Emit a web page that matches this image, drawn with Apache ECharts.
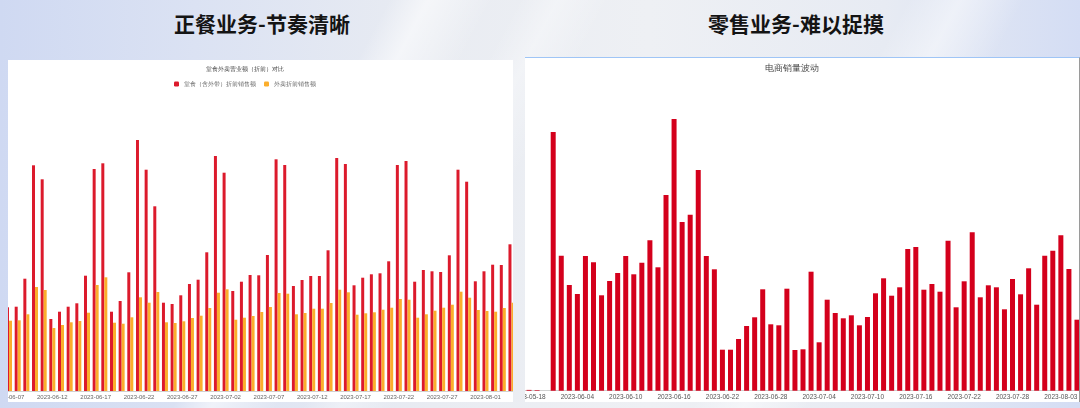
<!DOCTYPE html>
<html>
<head>
<meta charset="utf-8">
<script src="https://cdn.jsdelivr.net/npm/echarts@6/dist/echarts.min.js"></script>
<style>
html,body{margin:0;padding:0;}
body{width:1080px;height:408px;overflow:hidden;position:relative;font-family:"Noto Sans CJK SC",sans-serif;
  background:
    linear-gradient(118deg, rgba(255,255,255,0) 30%, rgba(255,255,255,0.55) 33%, rgba(255,255,255,0) 38%),
    linear-gradient(118deg, rgba(255,255,255,0) 40%, rgba(255,255,255,0.35) 43%, rgba(255,255,255,0) 47%),
    linear-gradient(118deg, rgba(255,255,255,0) 70%, rgba(255,255,255,0.45) 74%, rgba(255,255,255,0) 79%),
    linear-gradient(90deg,#cfd9f2 0%,#dbe2f3 18%,#e9ecf2 40%,#eef0f4 60%,#e7ebf3 82%,#d4ddf4 100%);}
.head{position:absolute;top:11px;line-height:24px;font-size:21px;font-weight:bold;color:#141414;transform:translateX(-50%);white-space:nowrap;}
#panelL{position:absolute;left:8px;top:60px;width:505px;height:342px;background:#fff;overflow:hidden;}
#panelR{position:absolute;left:525px;top:57px;width:554px;height:344px;background:#fff;overflow:hidden;border-top:1px solid #9fc5f6;border-right:1px solid #9a9a9a;}
#chartL{position:absolute;left:-38px;top:0;width:550px;height:342px;}
#chartR{position:absolute;left:0;top:0;width:556px;height:344px;}
</style>
</head>
<body>
<div class="head" style="left:262px">正餐业务-节奏清晰</div>
<div class="head" style="left:796px">零售业务-难以捉摸</div>
<div id="panelL"><div id="chartL"></div></div>
<div id="panelR"><div id="chartR"></div></div>
<script>
// 正餐：堂食 / 外卖 折前营业额
var dineDates = ['2023-06-07','2023-06-08','2023-06-09','2023-06-10','2023-06-11','2023-06-12','2023-06-13','2023-06-14','2023-06-15','2023-06-16',
  '2023-06-17','2023-06-18','2023-06-19','2023-06-20','2023-06-21','2023-06-22','2023-06-23','2023-06-24','2023-06-25','2023-06-26',
  '2023-06-27','2023-06-28','2023-06-29','2023-06-30','2023-07-01','2023-07-02','2023-07-03','2023-07-04','2023-07-05','2023-07-06',
  '2023-07-07','2023-07-08','2023-07-09','2023-07-10','2023-07-11','2023-07-12','2023-07-13','2023-07-14','2023-07-15','2023-07-16',
  '2023-07-17','2023-07-18','2023-07-19','2023-07-20','2023-07-21','2023-07-22','2023-07-23','2023-07-24','2023-07-25','2023-07-26',
  '2023-07-27','2023-07-28','2023-07-29','2023-07-30','2023-07-31','2023-08-01','2023-08-02','2023-08-03','2023-08-04'];
var dineIn = [8370,8430,11230,22570,21170,7200,7930,8430,8770,11530,
  22200,22770,7930,9000,11870,25100,22130,18470,8830,8700,
  9570,10700,11130,13870,23500,21830,10000,10930,11600,11570,
  13600,23170,22600,10500,11100,11500,11500,14070,23300,22700,
  10570,11330,11670,11770,12970,22600,23000,10930,12100,11970,
  11900,13570,22130,20930,10970,11970,12630,12600,14670];
var takeout = [7030,7070,7670,10400,10100,6300,6600,6870,7000,7830,
  10600,11370,6830,6730,7370,9370,8830,9900,6870,6800,
  6970,7300,7530,8300,9830,10170,7130,7330,7500,7900,
  8400,9800,9730,7670,7800,8230,8230,8800,10130,9870,
  7630,7770,7870,8130,8330,9200,9130,7330,7670,8030,
  8330,8630,9930,9330,8100,8000,7930,8300,8830];

// 零售：电商销量
var shopDates = ['2023-05-18','2023-05-24','2023-05-31',
  '2023-06-01','2023-06-02','2023-06-03','2023-06-04','2023-06-05','2023-06-06','2023-06-07','2023-06-08','2023-06-09','2023-06-10',
  '2023-06-11','2023-06-12','2023-06-13','2023-06-14','2023-06-15','2023-06-16','2023-06-17','2023-06-18','2023-06-19','2023-06-20',
  '2023-06-21','2023-06-22','2023-06-23','2023-06-24','2023-06-25','2023-06-26','2023-06-27','2023-06-28','2023-06-29','2023-06-30',
  '2023-07-01','2023-07-02','2023-07-03','2023-07-04','2023-07-05','2023-07-06','2023-07-07','2023-07-08','2023-07-09','2023-07-10',
  '2023-07-11','2023-07-12','2023-07-13','2023-07-14','2023-07-15','2023-07-16','2023-07-17','2023-07-18','2023-07-19','2023-07-20',
  '2023-07-21','2023-07-22','2023-07-23','2023-07-24','2023-07-25','2023-07-26','2023-07-27','2023-07-28','2023-07-29','2023-07-30',
  '2023-07-31','2023-08-01','2023-08-02','2023-08-03','2023-08-04','2023-08-05'];
var shopSales = [8,6,0,
  2587,1350,1057,967,1347,1284,954,1097,1177,1347,
  1164,1280,1504,1234,1957,2717,1687,1760,2207,1347,
  1214,410,410,517,647,734,1014,664,654,1020,
  407,414,1190,484,910,777,724,754,654,737,
  974,1124,950,1034,1417,1437,1010,1067,990,1500,
  834,1094,1584,934,1054,1034,814,1117,964,1224,
  860,1350,1400,1554,1217,710];

var chartL = echarts.init(document.getElementById('chartL'));
chartL.setOption({
  animation: false,
  title: {
    text: '堂食外卖营业额（折前）对比',
    left: 'center', top: 6, padding: 0,
    textStyle: { fontSize: 6.2, fontWeight: 'normal', color: '#444' }
  },
  legend: {
    data: ['堂食（含外带）折前销售额', '外卖折前销售额'],
    left: 'center', top: 21, padding: 0,
    itemWidth: 5, itemHeight: 5, itemGap: 8, icon: 'roundRect',
    textStyle: { fontSize: 6, color: '#666' }
  },
  grid: { left: 34.7, right: 4.2, top: 51, bottom: 11, outerBoundsMode: 'none' },
  xAxis: {
    type: 'category',
    data: dineDates,
    axisTick: { show: false },
    axisLine: { lineStyle: { color: '#d0d0d0' } },
    axisLabel: { interval: 4, fontSize: 6, color: '#666', margin: 3 }
  },
  yAxis: { type: 'value', show: false, min: 0, max: 28000, splitLine: { show: false } },
  series: [
    { name: '堂食（含外带）折前销售额', type: 'bar', data: dineIn, barWidth: 3, barGap: '0%', itemStyle: { color: '#dc1a2c' } },
    { name: '外卖折前销售额', type: 'bar', data: takeout, barWidth: 3, itemStyle: { color: '#fbae2c' } }
  ]
});

var chartR = echarts.init(document.getElementById('chartR'));
chartR.setOption({
  animation: false,
  title: {
    text: '电商销量波动',
    left: 240, top: 6, padding: 0,
    textStyle: { fontSize: 9, fontWeight: 'normal', color: '#444' }
  },
  grid: { left: 0, right: 0, top: 52.7, bottom: 11.3, outerBoundsMode: 'none' },
  xAxis: {
    type: 'category',
    data: shopDates,
    axisTick: { show: false },
    axisLine: { lineStyle: { color: '#d0d0d0' } },
    axisLabel: { interval: 5, fontSize: 6.5, color: '#555', margin: 3 }
  },
  yAxis: { type: 'value', show: false, min: 0, max: 2800, splitLine: { show: false } },
  series: [
    { name: '电商销量', type: 'bar', data: shopSales, barWidth: 5, itemStyle: { color: '#d4001c' } }
  ]
});
</script>
</body>
</html>
